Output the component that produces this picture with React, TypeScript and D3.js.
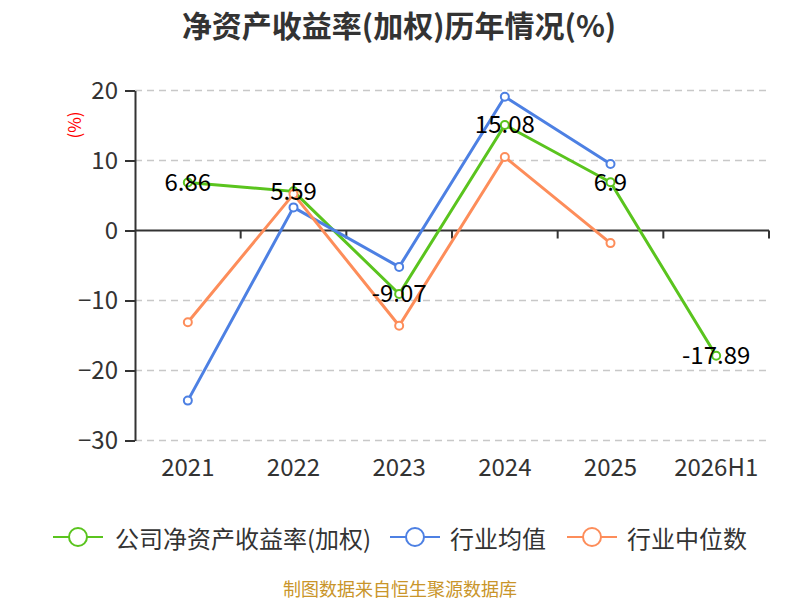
import * as d3 from "d3";
import { useEffect, useRef } from "react";

const years = ["2021", "2022", "2023", "2024", "2025", "2026H1"];
const companyRoe = [6.86, 5.59, -9.07, 15.08, 6.9, -17.89];
const industryMean = [-24.3, 3.3, -5.2, 19.1, 9.5, null];
const industryMedian = [-13.1, 5.2, -13.6, 10.5, -1.8, null];
const yTicks = [-30, -20, -10, 0, 10, 20];

const seriesList = [
  { name: "公司净资产收益率(加权)", color: "#5ac41e", values: companyRoe },
  { name: "行业均值", color: "#4d80e3", values: industryMean },
  { name: "行业中位数", color: "#fd8d5a", values: industryMedian },
];

const FONT = '"Noto Sans CJK SC", "Noto Sans", sans-serif';

export default function App() {
  const svgRef = useRef<SVGSVGElement | null>(null);

  useEffect(() => {
    const width = 800;
    const height = 600;
    const left = 135;
    const right = 769;
    const top = 90.5;
    const bottom = 440.5;

    const svg = d3.select(svgRef.current);
    svg.selectAll("*").remove();
    svg.append("rect").attr("width", width).attr("height", height).attr("fill", "#fff");

    const x = d3.scaleBand<string>().domain(years).range([left, right]);
    const y = d3.scaleLinear().domain([-30, 20]).range([bottom, top]);
    const cx = (d: string) => (x(d) ?? 0) + x.bandwidth() / 2;

    // title
    svg
      .append("text")
      .attr("x", 399)
      .attr("y", 24)
      .attr("text-anchor", "middle")
      .attr("dominant-baseline", "central")
      .style("font-family", FONT)
      .style("font-size", "30px")
      .style("font-weight", "bold")
      .style("fill", "#333")
      .text("净资产收益率(加权)历年情况(%)");

    // y unit
    svg
      .append("text")
      .attr("transform", "translate(73,125) rotate(-90)")
      .attr("text-anchor", "middle")
      .attr("dominant-baseline", "central")
      .style("font-family", FONT)
      .style("font-size", "17px")
      .style("fill", "#f00")
      .text("(%)");

    // grid
    svg
      .append("g")
      .selectAll("line")
      .data(yTicks.filter((t) => t !== 0))
      .join("line")
      .attr("x1", left)
      .attr("x2", right)
      .attr("y1", (d) => y(d))
      .attr("y2", (d) => y(d))
      .attr("stroke", "#c8c8c8")
      .attr("stroke-width", 1.5)
      .attr("stroke-dasharray", "7,5");

    // y axis
    const yAxis = svg
      .append("g")
      .attr("transform", `translate(${left},0)`)
      .call(d3.axisLeft(y).tickValues(yTicks).tickSize(10).tickSizeOuter(0).tickPadding(7));
    yAxis.select(".domain").attr("stroke", "#333").attr("stroke-width", 2);
    yAxis.selectAll(".tick line").attr("stroke", "#333").attr("stroke-width", 2);
    yAxis
      .selectAll(".tick text")
      .style("font-family", FONT)
      .style("font-size", "24px")
      .style("fill", "#333");

    // x axis on zero line
    const y0 = y(0);
    svg
      .append("line")
      .attr("x1", left)
      .attr("x2", right)
      .attr("y1", y0)
      .attr("y2", y0)
      .attr("stroke", "#333")
      .attr("stroke-width", 2);
    svg
      .append("g")
      .selectAll("line")
      .data(years)
      .join("line")
      .attr("x1", (d) => (x(d) ?? 0) + x.bandwidth())
      .attr("x2", (d) => (x(d) ?? 0) + x.bandwidth())
      .attr("y1", y0)
      .attr("y2", y0 + 8)
      .attr("stroke", "#333")
      .attr("stroke-width", 2);
    svg
      .append("g")
      .selectAll("text")
      .data(years)
      .join("text")
      .attr("x", (d) => cx(d))
      .attr("y", 465)
      .attr("text-anchor", "middle")
      .attr("dominant-baseline", "central")
      .style("font-family", FONT)
      .style("font-size", "24px")
      .style("fill", "#333")
      .text((d) => d);

    // series
    const line = d3
      .line<number | null>()
      .defined((d) => d != null)
      .x((_, i) => cx(years[i]))
      .y((d) => y(d as number));

    seriesList.forEach((s) => {
      const g = svg.append("g");
      g.append("path")
        .attr("d", line(s.values))
        .attr("fill", "none")
        .attr("stroke", s.color)
        .attr("stroke-width", 3)
        .attr("stroke-linejoin", "round");
      g.selectAll("circle")
        .data(s.values.map((v, i) => ({ v, i })).filter((p) => p.v != null))
        .join("circle")
        .attr("cx", (p) => cx(years[p.i]))
        .attr("cy", (p) => y(p.v as number))
        .attr("r", 4)
        .attr("fill", "#fff")
        .attr("stroke", s.color)
        .attr("stroke-width", 2);
    });

    // labels for company series
    svg
      .append("g")
      .selectAll("text")
      .data(companyRoe)
      .join("text")
      .attr("x", (_, i) => cx(years[i]))
      .attr("y", (d) => y(d) - 2)
      .attr("text-anchor", "middle")
      .attr("dominant-baseline", "central")
      .style("font-family", FONT)
      .style("font-size", "24px")
      .style("fill", "#000")
      .text((d) => String(d));

    // legend
    const legendPos = [
      { sx: 78, tx: 115 },
      { sx: 415, tx: 450 },
      { sx: 592, tx: 627 },
    ];
    const ly = 537;
    seriesList.forEach((s, i) => {
      const p = legendPos[i];
      const g = svg.append("g");
      g.append("line")
        .attr("x1", p.sx - 25)
        .attr("x2", p.sx + 25)
        .attr("y1", ly)
        .attr("y2", ly)
        .attr("stroke", s.color)
        .attr("stroke-width", 2);
      g.append("circle")
        .attr("cx", p.sx)
        .attr("cy", ly)
        .attr("r", 9)
        .attr("fill", "#fff")
        .attr("stroke", s.color)
        .attr("stroke-width", 2);
      g.append("text")
        .attr("x", p.tx)
        .attr("y", ly)
        .attr("dominant-baseline", "central")
        .style("font-family", FONT)
        .style("font-size", "24px")
        .style("fill", "#333")
        .text(s.name);
    });

    // source note
    svg
      .append("text")
      .attr("x", 400)
      .attr("y", 588)
      .attr("text-anchor", "middle")
      .attr("dominant-baseline", "central")
      .style("font-family", FONT)
      .style("font-size", "18px")
      .style("fill", "#c9952a")
      .text("制图数据来自恒生聚源数据库");
  }, []);

  return (
    <svg
      ref={svgRef}
      width={800}
      height={600}
      style={{ position: "absolute", left: 0, top: 0, display: "block" }}
    />
  );
}
